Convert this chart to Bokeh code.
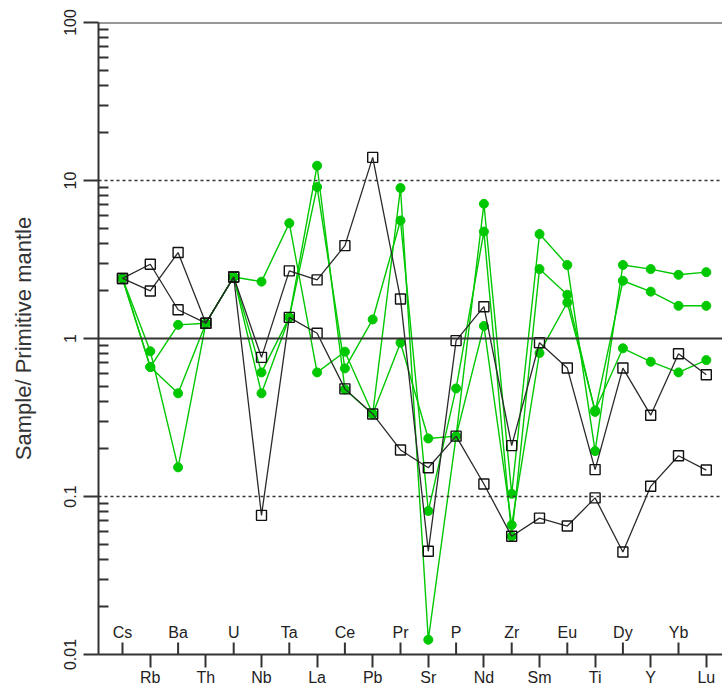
from bokeh.plotting import figure
from bokeh.models import FixedTicker, Span, LabelSet, ColumnDataSource, Range1d
from bokeh.core.properties import value
from bokeh.embed import file_html
from bokeh.resources import INLINE

elements = ["Cs", "Rb", "Ba", "Th", "U", "Nb", "Ta", "La", "Ce", "Pb", "Pr",
            "Sr", "P", "Nd", "Zr", "Sm", "Eu", "Ti", "Dy", "Y", "Yb", "Lu"]

black1 = [2.4, 2.95, 1.52, 1.25, 2.45, 0.76, 2.68, 2.35, 3.87, 14.0, 1.78,
          0.045, 0.97, 1.59, 0.21, 0.94, 0.65, 0.148, 0.65, 0.327, 0.80, 0.59]
black2 = [2.4, 2.0, 3.5, 1.25, 2.45, 0.076, 1.36, 1.08, 0.48, 0.333, 0.197,
          0.152, 0.241, 0.12, 0.056, 0.073, 0.065, 0.098, 0.0445, 0.116, 0.181, 0.147]

green1 = [2.4, 0.83, 0.153, 1.25, 2.45, 0.45, 1.36, 12.4, 0.476, 0.333, 8.96,
          0.0124, 0.241, 7.12, 0.104, 4.58, 2.92, 0.194, 2.92, 2.75, 2.53, 2.63]
green2 = [2.4, 0.66, 0.45, 1.25, 2.45, 0.61, 1.36, 9.1, 0.647, 1.32, 5.58,
          0.081, 0.483, 4.75, 0.056, 2.75, 1.89, 0.343, 2.32, 1.98, 1.61, 1.61]
green3 = [2.4, 0.66, 1.22, 1.25, 2.45, 2.29, 5.37, 0.61, 0.825, 0.333, 0.94,
          0.233, 0.241, 1.2, 0.066, 0.81, 1.69, 0.35, 0.867, 0.713, 0.61, 0.73]

y_major = [0.01, 0.1, 1, 10, 100]
y_major_labels = ["0.01", "0.1", "1", "10", "100"]

FONT = "Liberation Sans"
AX = "#333333"
GREEN = "#00c800"

W, H = 722, 689
TOP, BOTTOM, LEFT = 22, 35, 98
frame_h = H - TOP - BOTTOM
frame_w = W - LEFT
step = 27.8
x0 = -24.0 / step
x1 = x0 + frame_w / step

p = figure(width=W, height=H, x_range=Range1d(x0, x1), y_range=Range1d(0.01, 100),
           y_axis_type="log", output_backend="svg", toolbar_location=None,
           min_border_left=LEFT, min_border_right=0, min_border_top=TOP,
           min_border_bottom=BOTTOM)
p.outline_line_color = None
p.grid.visible = False
p.background_fill_color = "white"

idx = list(range(len(elements)))
odd = [i for i in idx if i % 2 == 1]
even = [i for i in idx if i % 2 == 0]

# y axis
ya = p.yaxis[0]
minor = [k * m for m in [0.01, 0.1, 1, 10] for k in range(2, 10)]
ya.ticker = FixedTicker(ticks=y_major, minor_ticks=minor)
ya.major_label_overrides = {v: s for v, s in zip(y_major, y_major_labels)}
ya.major_label_orientation = "vertical"
ya.major_tick_out = 15
ya.major_tick_in = 0
ya.minor_tick_in = 10
ya.minor_tick_out = 0
ya.axis_line_width = 2
ya.axis_line_color = AX
ya.major_tick_line_width = 2
ya.major_tick_line_color = AX
ya.minor_tick_line_width = 2
ya.minor_tick_line_color = AX
ya.major_label_standoff = 8
ya.major_label_text_font = FONT
ya.major_label_text_font_size = "16px"
ya.major_label_text_color = "#222222"
ya.axis_label = "Sample/ Primitive mantle"
ya.axis_label_text_font = FONT
ya.axis_label_text_font_size = "22px"
ya.axis_label_text_font_style = "normal"
ya.axis_label_text_color = "#333333"
ya.axis_label_standoff = 25

# x axis: outer ticks with the lower row of element labels
xa = p.xaxis[0]
xa.ticker = FixedTicker(ticks=odd, minor_ticks=[])
xa.major_label_overrides = {i: elements[i] for i in odd}
xa.major_label_text_font = FONT
xa.major_label_text_font_size = "16px"
xa.major_label_text_color = "#222222"
xa.major_tick_out = 13
xa.major_tick_in = 0
xa.minor_tick_line_color = None
xa.axis_line_width = 2
xa.axis_line_color = AX
xa.major_tick_line_width = 2
xa.major_tick_line_color = AX
xa.major_label_standoff = 1

# inner ticks for the upper row of labels
ppd = frame_h / 4.0
tick_top = 0.01 * 10 ** (12.0 / ppd)
p.segment(x0=even, y0=[0.01] * len(even), x1=even, y1=[tick_top] * len(even),
          line_color=AX, line_width=2)

# reference lines
for v, dash in [(100, "solid"), (10, "3 3"), (1, "solid"), (0.1, "3 3")]:
    p.add_layout(Span(location=v, dimension="width", line_color=AX,
                      line_width=2 if dash == "solid" else 1.5, line_dash=dash))

# series
for ys in [green1, green2, green3]:
    p.line(idx, ys, line_color=GREEN, line_width=1.4)
for ys in [green1, green2, green3]:
    p.scatter(idx, ys, marker="circle", size=9, fill_color=GREEN, line_color=GREEN)
for ys in [black1, black2]:
    p.line(idx, ys, line_color="#2a2a2a", line_width=1.3)
for ys in [black1, black2]:
    p.scatter(idx, ys, marker="square", size=10, fill_color=None,
              line_color="#111111", line_width=1.4)

# upper row of element labels (inside the plot)
top_src = ColumnDataSource(dict(x=even, y=[0.01] * len(even), t=[elements[i] for i in even]))
p.add_layout(LabelSet(x="x", y="y", text="t", source=top_src, y_offset=17,
                      text_align="center", text_baseline="alphabetic",
                      text_font=value(FONT), text_font_size=value("16px"),
                      text_color=value("#222222")))

open("out.html", "w").write(file_html(p, INLINE))
